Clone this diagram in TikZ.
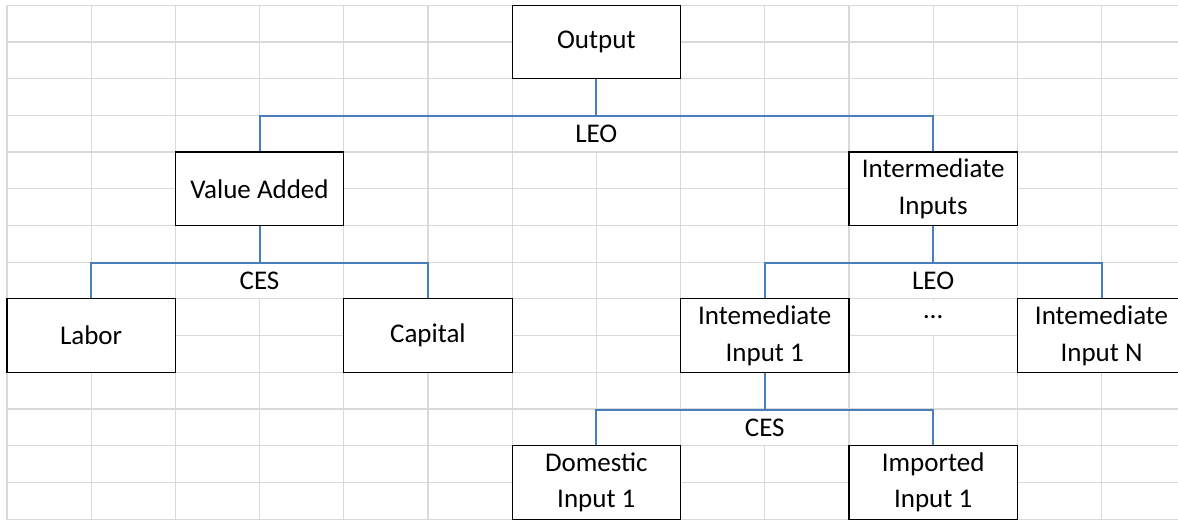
\documentclass[tikz,border=0pt]{standalone}
\usepackage{fontspec}
\setmainfont{Carlito}
\definecolor{linkblue}{RGB}{74,126,187}
\definecolor{gridgray}{RGB}{217,217,217}

\begin{document}
\begin{tikzpicture}[
    x = 42.1pt, % one sheet column
    y = -18.35pt, % one sheet row, counted downwards
    font = \fontsize{13.5}{18.35}\selectfont, % cell text
    semithick % line style
    ]

    \tikzset{
    box/.style = {draw = black, line width = 0.6pt, fill = white, align = center,
        inner sep = 0pt, minimum width = 84.2pt, minimum height = 36.7pt},
    tag/.style = {fill = white, inner sep = 0pt, minimum width = 83pt, minimum height = 17.5pt},
    gridline/.style = {draw = gridgray, line width = 0.6pt},
    fork/.style = {draw = linkblue, line width = 1pt,
        to path = {(\tikztostart) -- ++(0,1) -| (\tikztotarget)}}
    }

    \useasboundingbox (-0.082,-0.144) rectangle (13.908,14);
    \clip (-0.082,-0.144) rectangle (13.908,14);

    % sheet grid
    \foreach \c in {0,...,14} \draw[gridline] (\c,0) -- (\c,14.2);
    \foreach \r in {0,...,14} \draw[gridline] (0,\r) -- (14.2,\r);

    \node[box] (out) at (7,1) {Output};
    \node[box] (va) at (3,5) {Value Added};
    \node[box] (ii) at (11,5) {Intermediate\\Inputs};
    \node[box] (lab) at (1,9) {Labor};
    \node[box] (cap) at (5,9) {Capital};
    \node[box] (ii1) at (9,9) {Intemediate\\Input 1};
    \node[box] (iin) at (13,9) {Intemediate\\Input N};
    \node[box] (dom) at (7,13) {Domestic\\Input 1};
    \node[box] (imp) at (11,13) {Imported\\Input 1};

    \node[tag] (leotop) at (7,3.5) {LEO};
    \node[tag] (cesva) at (3,7.5) {CES};
    \node[tag] (leoii) at (11,7.5) {LEO};
    \node[tag] (more) at (11,8.5) {…};
    \node[tag] (cesii) at (9,11.5) {CES};

    \path (out.south) edge[fork] (va.north) edge[fork] (ii.north);
    \path (va.south) edge[fork] (lab.north) edge[fork] (cap.north);
    \path (ii.south) edge[fork] (ii1.north) edge[fork] (iin.north);
    \path (ii1.south) edge[fork] (dom.north) edge[fork] (imp.north);
\end{tikzpicture}
\end{document}
